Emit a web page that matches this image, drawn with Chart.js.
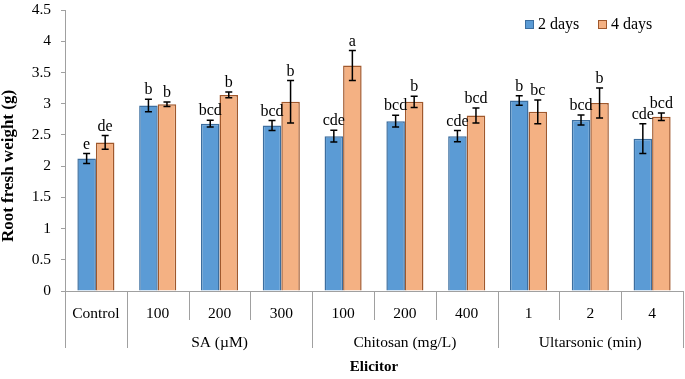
<!DOCTYPE html>
<html>
<head>
<meta charset="utf-8">
<script src="https://cdn.jsdelivr.net/npm/chart.js@4.4.1/dist/chart.umd.min.js"></script>
<style>
  html, body { margin: 0; padding: 0; background: #fff; }
  #wrap { width: 685px; height: 379px; }
</style>
</head>
<body>
<div id="wrap"><canvas id="chart" width="685" height="379"></canvas></div>
<script>
// categories along the x axis and the group each one belongs to
const categories = ["Control", "100", "200", "300", "100", "200", "400", "1", "2", "4"];
const groups = [
    { label: "", from: 0, to: 0 },
    { label: "SA (\u00b5M)", from: 1, to: 3 },
    { label: "Chitosan (mg/L)", from: 4, to: 6 },
    { label: "Ultarsonic (min)", from: 7, to: 9 }
];

// means
const days2 = [2.12, 2.97, 2.68, 2.65, 2.48, 2.72, 2.48, 3.05, 2.74, 2.44];
const days4 = [2.38, 2.99, 3.14, 3.03, 3.61, 3.03, 2.81, 2.87, 3.01, 2.79];

// error bar half-heights
const err2 = [0.08, 0.10, 0.055, 0.08, 0.095, 0.095, 0.09, 0.075, 0.08, 0.24];
const err4 = [0.11, 0.035, 0.045, 0.34, 0.24, 0.09, 0.12, 0.19, 0.24, 0.06];

// significance letters
const letters2 = ["e", "b", "bcd", "bcd", "cde", "bcd", "cde", "b", "bcd", "cde"];
const letters4 = ["de", "b", "b", "b", "a", "b", "bcd", "bc", "b", "bcd"];

const yTicks = [0, 0.5, 1, 1.5, 2, 2.5, 3, 3.5, 4, 4.5];

const SERIF = "'Liberation Serif', 'Times New Roman', serif";
const AXIS_GREY = "#a0a0a0";

// error bars + letters on top of bars
const errorBarPlugin = {
    id: "errorBars",
    afterDatasetsDraw(chart) {
        const ctx = chart.ctx;
        const y = chart.scales.y;
        const errs = [err2, err4];
        const lets = [letters2, letters4];
        ctx.save();
        chart.data.datasets.forEach((ds, di) => {
            const meta = chart.getDatasetMeta(di);
            meta.data.forEach((bar, i) => {
                const v = ds.data[i];
                const e = errs[di][i];
                const yTop = y.getPixelForValue(v + e);
                const yBot = y.getPixelForValue(v - e);
                ctx.strokeStyle = "#000";
                ctx.lineWidth = 1.5;
                ctx.beginPath();
                ctx.moveTo(bar.x, yTop);
                ctx.lineTo(bar.x, yBot);
                ctx.moveTo(bar.x - 3.5, yTop);
                ctx.lineTo(bar.x + 3.5, yTop);
                ctx.moveTo(bar.x - 3.5, yBot);
                ctx.lineTo(bar.x + 3.5, yBot);
                ctx.stroke();

                ctx.fillStyle = "#000";
                ctx.font = "16px " + SERIF;
                ctx.textAlign = "center";
                ctx.textBaseline = "alphabetic";
                ctx.fillText(lets[di][i], bar.x, yTop - 5);
            });
        });
        ctx.restore();
    }
};

// separators and group labels under the x axis, y title, legend
const groupAxisPlugin = {
    id: "groupAxis",
    afterDraw(chart) {
        const ctx = chart.ctx;
        const x = chart.scales.x;
        const area = chart.chartArea;
        const base = area.bottom;
        const boundary = (i) => {
            if (i < 0) return area.left;
            if (i >= categories.length - 1) return area.right;
            return (x.getPixelForValue(i) + x.getPixelForValue(i + 1)) / 2;
        };
        const groupEnds = new Set([-1]);
        groups.forEach(g => groupEnds.add(g.to));

        ctx.save();
        ctx.strokeStyle = AXIS_GREY;
        ctx.lineWidth = 1;
        for (let i = -1; i < categories.length; i++) {
            const px = Math.round(boundary(i)) + 0.5;
            ctx.beginPath();
            ctx.moveTo(px, base);
            ctx.lineTo(px, groupEnds.has(i) ? base + 57 : base + 29);
            ctx.stroke();
        }

        ctx.fillStyle = "#000";
        ctx.font = "15.5px " + SERIF;
        ctx.textAlign = "center";
        ctx.textBaseline = "middle";
        groups.forEach(g => {
            if (!g.label) return;
            const cx = (boundary(g.from - 1) + boundary(g.to)) / 2;
            ctx.fillText(g.label, cx, base + 52);
        });

        // y axis title
        ctx.save();
        ctx.translate(9, 166);
        ctx.rotate(-Math.PI / 2);
        ctx.font = "bold 17px " + SERIF;
        ctx.fillText("Root fresh weight (g)", 0, 0);
        ctx.restore();

        // legend
        const items = [
            { text: "2 days", fill: "#5b9bd5", border: "#3c6e9f", x: 525 },
            { text: "4 days", fill: "#f4b183", border: "#a0582c", x: 598 }
        ];
        ctx.font = "16px " + SERIF;
        ctx.textAlign = "left";
        items.forEach(it => {
            ctx.fillStyle = it.fill;
            ctx.fillRect(it.x, 20, 8, 8);
            ctx.strokeStyle = it.border;
            ctx.strokeRect(it.x + 0.5, 20.5, 8, 8);
            ctx.fillStyle = "#000";
            ctx.fillText(it.text, it.x + 13, 24.5);
        });
        ctx.restore();
    }
};

new Chart(document.getElementById("chart"), {
    type: "bar",
    data: {
        labels: categories,
        datasets: [
            {
                label: "2 days",
                data: days2,
                backgroundColor: "#5b9bd5",
                borderColor: "#3c6e9f",
                borderWidth: 1.5,
                borderSkipped: "bottom",
                categoryPercentage: 0.6,
                barPercentage: 1.0
            },
            {
                label: "4 days",
                data: days4,
                backgroundColor: "#f4b183",
                borderColor: "#a0582c",
                borderWidth: 1.5,
                borderSkipped: "bottom",
                categoryPercentage: 0.6,
                barPercentage: 1.0
            }
        ]
    },
    options: {
        responsive: false,
        animation: false,
        layout: { padding: { top: 10, right: 2, left: 0, bottom: 0 } },
        plugins: {
            legend: { display: false },
            tooltip: { enabled: false }
        },
        scales: {
            x: {
                grid: { display: false, drawTicks: false },
                border: { color: AXIS_GREY, width: 1 },
                ticks: {
                    color: "#000",
                    font: { family: SERIF, size: 15.5 },
                    padding: 14,
                    autoSkip: false,
                    maxRotation: 0
                },
                title: {
                    display: true,
                    text: "Elicitor",
                    color: "#000",
                    font: { family: SERIF, size: 15, weight: "bold" },
                    padding: { top: 0, bottom: 3 }
                },
                afterFit(scale) { scale.height = 88; }
            },
            y: {
                min: 0,
                max: 4.5,
                afterBuildTicks(scale) { scale.ticks = yTicks.map(v => ({ value: v })); },
                grid: { drawOnChartArea: false, drawTicks: true, tickLength: 4, color: AXIS_GREY },
                border: { color: AXIS_GREY, width: 1 },
                ticks: {
                    color: "#000",
                    font: { family: SERIF, size: 15.5 },
                    padding: 10,
                    callback: (v) => String(v)
                },
                afterFit(scale) {
                    scale.width = 65;
                    scale.paddingTop = 0;
                    scale.paddingBottom = 0;
                }
            }
        }
    },
    plugins: [errorBarPlugin, groupAxisPlugin]
});
</script>
</body>
</html>
